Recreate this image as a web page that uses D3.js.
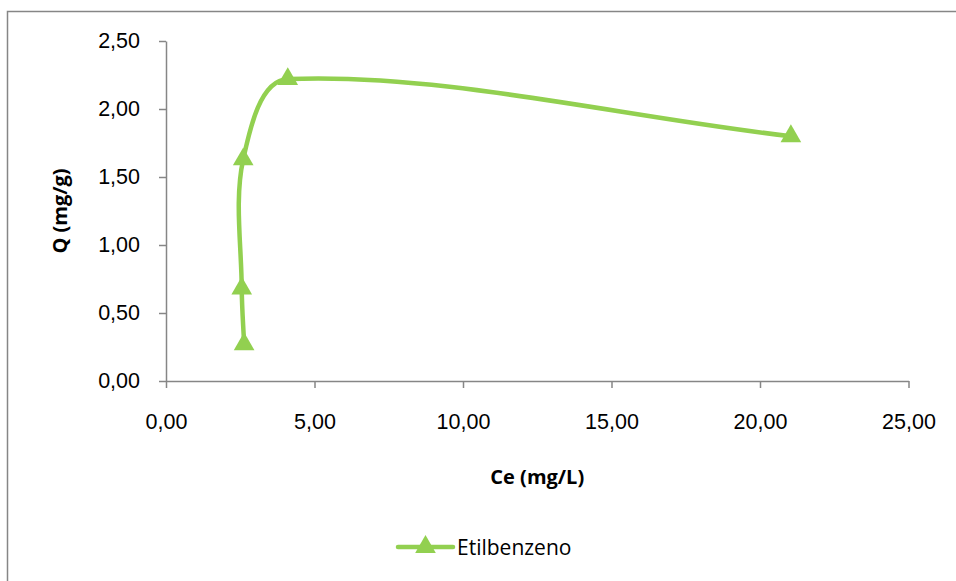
<!DOCTYPE html>
<html>
<head>
<meta charset="utf-8">
<title>Etilbenzeno</title>
<script src="https://cdn.jsdelivr.net/npm/d3@7"></script>
<style>
  body { margin: 0; background: #fff; }
  svg { display: block; font-family: "Open Sans", "Liberation Sans", sans-serif; }
</style>
</head>
<body>
<div id="chart"></div>
<script>
// data
const seriesName = "Etilbenzeno";
const ceValues = [2.63, 2.55, 2.60, 4.10, 21.04];   // Ce (mg/L)
const qValues  = [0.27, 0.68, 1.63, 2.22, 1.80];    // Q (mg/g)
const xTicks = [0, 5, 10, 15, 20, 25];
const yTicks = [0, 0.5, 1, 1.5, 2, 2.5];

const width = 956, height = 581;
const margin = {top: 41, right: 47, bottom: 200, left: 166};
const green = "#92d050", axisGrey = "#868686";
const fmt = v => v.toFixed(2).replace(".", ",");

const svg = d3.select("#chart").append("svg")
    .attr("width", width)
    .attr("height", height);

// chart area border
svg.append("rect")
    .attr("x", 7.5).attr("y", 11.5)
    .attr("width", width + 10).attr("height", height + 10)
    .attr("fill", "none")
    .attr("stroke", axisGrey)
    .attr("stroke-width", 1.5);

const x = d3.scaleLinear()
    .domain([0, 25])
    .range([margin.left, 908.5]);

const y = d3.scaleLinear()
    .domain([0, 2.5])
    .range([381, margin.top]);

const xAxis = g => g
    .attr("transform", `translate(0,${y(0)})`)
    .call(d3.axisBottom(x).tickValues(xTicks).tickFormat(fmt).tickSize(7).tickSizeOuter(0).tickPadding(26))
    .call(g => g.selectAll("line, path").attr("stroke", axisGrey).attr("stroke-width", 1.5))
    .call(g => g.selectAll("text").attr("font-size", 21.5).attr("fill", "#000"));

const yAxis = g => g
    .attr("transform", `translate(${x(0)},0)`)
    .call(d3.axisLeft(y).tickValues(yTicks).tickFormat(fmt).tickSize(7).tickSizeOuter(0).tickPadding(19))
    .call(g => g.selectAll("line, path").attr("stroke", axisGrey).attr("stroke-width", 1.5))
    .call(g => g.selectAll("text").attr("font-size", 21.5).attr("fill", "#000"));

svg.append("g").call(xAxis);
svg.append("g").call(yAxis);

// axis titles
svg.append("text")
    .attr("x", (x(0) + x(25)) / 2)
    .attr("y", 484)
    .attr("text-anchor", "middle")
    .attr("font-size", 20)
    .attr("font-weight", "bold")
    .text("Ce (mg/L)");

svg.append("text")
    .attr("transform", `translate(67,${(y(0) + y(2.5)) / 2}) rotate(-90)`)
    .attr("text-anchor", "middle")
    .attr("font-size", 20)
    .attr("font-weight", "bold")
    .text("Q (mg/g)");

const points = ceValues.map((c, i) => ({ce: c, q: qValues[i]}));

// smoothed line like a spreadsheet "smoothed line": bezier segments,
// tangent along neighbours, length weighted by segment lengths
function smoothPath(pts) {
    const p = pts.map(d => [x(d.ce), y(d.q)]);
    const n = p.length;
    const dist = (a, b) => Math.hypot(b[0] - a[0], b[1] - a[1]);
    const path = d3.path();
    path.moveTo(p[0][0], p[0][1]);
    for (let i = 0; i < n - 1; i++) {
        const p0 = p[Math.max(i - 1, 0)], p1 = p[i], p2 = p[i + 1], p3 = p[Math.min(i + 2, n - 1)];
        const d01 = dist(p0, p1), d12 = dist(p1, p2), d23 = dist(p2, p3);
        const f1 = d12 / (d01 + d12) / 3;
        const f2 = d12 / (d12 + d23) / 3;
        path.bezierCurveTo(
            p1[0] + (p2[0] - p0[0]) * f1, p1[1] + (p2[1] - p0[1]) * f1,
            p2[0] - (p3[0] - p1[0]) * f2, p2[1] - (p3[1] - p1[1]) * f2,
            p2[0], p2[1]);
    }
    return path.toString();
}

svg.append("path")
    .attr("fill", "none")
    .attr("stroke", green)
    .attr("stroke-width", 4.5)
    .attr("stroke-linecap", "round")
    .attr("d", smoothPath(points));

const tri = d3.symbol().type(d3.symbolTriangle).size(185);

svg.append("g")
    .selectAll("path")
    .data(points)
    .join("path")
    .attr("transform", d => `translate(${x(d.ce)},${y(d.q)})`)
    .attr("d", tri)
    .attr("fill", green);

// legend
const lg = svg.append("g").attr("transform", "translate(398,547)");
lg.append("line")
    .attr("x1", 0).attr("x2", 55)
    .attr("stroke", green)
    .attr("stroke-width", 4.5)
    .attr("stroke-linecap", "round");
lg.append("path")
    .attr("transform", "translate(27.5,0)")
    .attr("d", tri)
    .attr("fill", green);
lg.append("text")
    .attr("x", 59)
    .attr("y", 8)
    .attr("font-size", 21)
    .text(seriesName);
</script>
</body>
</html>
